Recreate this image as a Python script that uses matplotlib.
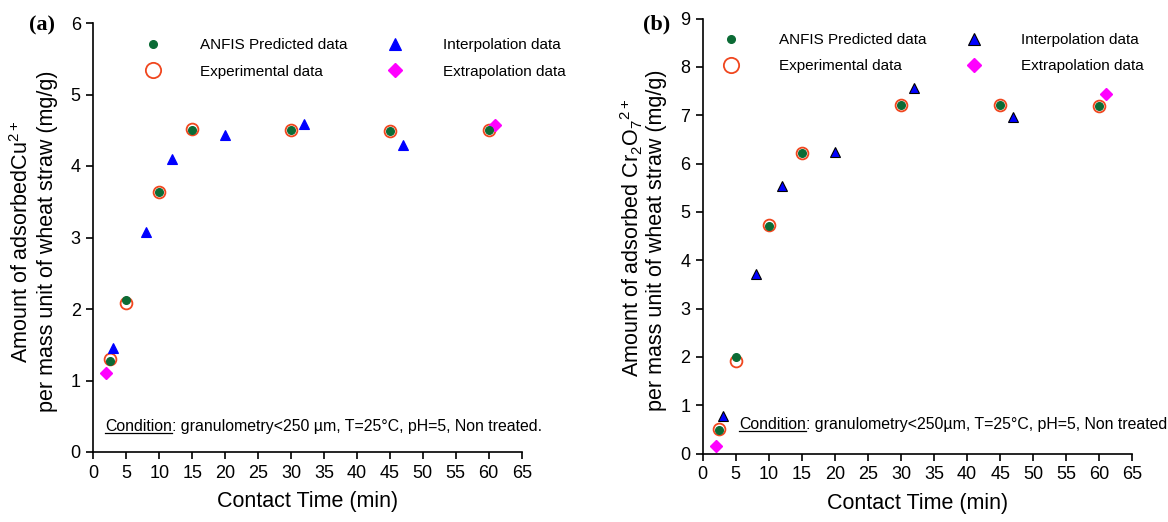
import matplotlib
matplotlib.use("Agg")
import matplotlib.pyplot as plt
from matplotlib.lines import Line2D

plt.rcParams['font.family'] = ['Liberation Sans', 'DejaVu Sans']
plt.rcParams['mathtext.fontset'] = 'custom'
plt.rcParams['mathtext.rm'] = 'Liberation Sans'
plt.rcParams['mathtext.it'] = 'Liberation Sans:italic'

# contact time of the experiments (min)
t_exp = [2.5, 5, 10, 15, 30, 45, 60]
t_interp = [3, 8, 12, 20, 32, 47]
t_extrap = [2, 61]

# (a) Cu2+
cu_exp = [1.30, 2.08, 3.64, 4.52, 4.50, 4.49, 4.50]
cu_anfis = [1.27, 2.12, 3.63, 4.50, 4.50, 4.49, 4.50]
cu_interp = [1.46, 3.08, 4.10, 4.43, 4.59, 4.29]
cu_extrap = [1.11, 4.58]

# (b) Cr2O7 2+
cr_exp = [0.51, 1.91, 4.74, 6.22, 7.22, 7.22, 7.19]
cr_anfis = [0.48, 1.99, 4.71, 6.22, 7.22, 7.21, 7.19]
cr_interp = [0.78, 3.72, 5.53, 6.25, 7.56, 6.97]
cr_extrap = [0.15, 7.44]

GREEN = '#0b6b35'
ORANGE = '#f0461e'
BLUE = '#0000ff'
MAGENTA = '#ff00ff'

W, H = 1168, 522
fig = plt.figure(figsize=(W / 100, H / 100), dpi=100)

def px_axes(x0, x1, y0, y1):
    # axes rectangle from pixel coords (top-left origin)
    return fig.add_axes([x0 / W, 1 - y1 / H, (x1 - x0) / W, (y1 - y0) / H])

ax_a = px_axes(93.3, 521.7, 23, 452)
ax_b = px_axes(702.7, 1132.4, 18.6, 453.6)

def draw_panel(ax, exp, anfis, interp, extrap, ymax, tri_edge):
    ax.plot(t_exp, exp, 'o', ms=8.5, mfc='none', mec=ORANGE, mew=1.3, clip_on=False, zorder=3)
    ax.plot(t_exp, anfis, 'o', ms=5.5, color=GREEN, mec=GREEN, clip_on=False, zorder=4)
    ax.plot(t_interp, interp, '^', ms=7.5, color=BLUE, mec=tri_edge, mew=0.8, clip_on=False, zorder=3)
    ax.plot(t_extrap, extrap, 'D', ms=6, color=MAGENTA, mec=MAGENTA, clip_on=False, zorder=3)
    ax.set_xlim(0, 65)
    ax.set_ylim(0, ymax)
    ax.set_xticks(range(0, 66, 5))
    ax.set_yticks(range(0, ymax + 1))
    for s in ['top', 'right']:
        ax.spines[s].set_visible(False)
    for s in ['left', 'bottom']:
        ax.spines[s].set_linewidth(1.2)
    ax.tick_params(direction='out', length=5, width=1.2, labelsize=13, pad=4)
    ax.set_xlabel('Contact Time (min)', fontsize=15.5, labelpad=7)

    handles = [
        Line2D([], [], ls='none', marker='o', ms=5.5, color=GREEN),
        Line2D([], [], ls='none', marker='o', ms=11, mfc='none', mec=ORANGE, mew=1.3),
        Line2D([], [], ls='none', marker='^', ms=9, color=BLUE, mec=tri_edge, mew=0.8),
        Line2D([], [], ls='none', marker='D', ms=7.5, color=MAGENTA),
    ]
    labels = ['ANFIS Predicted data', 'Experimental data',
              'Interpolation data', 'Extrapolation data']
    return handles, labels

leg_kw = dict(ncol=2, loc='upper left', frameon=False, fontsize=11,
              handlelength=1.2, handletextpad=2.5, columnspacing=2.5,
              labelspacing=0.8, borderaxespad=0, borderpad=0)

h, l = draw_panel(ax_a, cu_exp, cu_anfis, cu_interp, cu_extrap, 6, BLUE)
ax_a.legend(h, l, bbox_to_anchor=(0.118, 0.964), **leg_kw)

h, l = draw_panel(ax_b, cr_exp, cr_anfis, cr_interp, cr_extrap, 9, 'black')
ax_b.legend(h, l, bbox_to_anchor=(0.0456, 0.967), **leg_kw)

# y labels, two lines each
def fig_text(x, y, s, **kw):
    return fig.text(x / W, 1 - y / H, s, **kw)

ylab = dict(rotation=90, ha='center', va='center', fontsize=15.5)
fig_text(21.7, 242, r'Amount of adsorbedCu$^{2+}$', **ylab)
fig_text(48, 241, 'per mass unit of wheat straw (mg/g)', **ylab)
fig_text(631.7, 238, r'Amount of adsorbed Cr$_2$O$_7$$^{2+}$', **ylab)
fig_text(656.7, 240, 'per mass unit of wheat straw (mg/g)', **ylab)

# panel letters
fig_text(42, 25, '(a)', family='Liberation Serif', fontweight='bold', fontsize=16, ha='center', va='center')
fig_text(657, 24, '(b)', family='Liberation Serif', fontweight='bold', fontsize=16, ha='center', va='center')

# condition notes with underlined "Condition"
def condition(x, y, rest):
    t1 = fig_text(x, y, 'Condition', fontsize=11.4, ha='left', va='baseline')
    fig.canvas.draw()
    bb = t1.get_window_extent()
    uy = bb.y0 + 1
    fig.add_artist(Line2D([bb.x0 / W, bb.x1 / W], [uy / H, uy / H], color='black', lw=0.9))
    fig.text(bb.x1 / W, 1 - y / H, rest, fontsize=11.4, ha='left', va='baseline')

condition(104.8, 430.6, ': granulometry<250 \u00b5m, T=25\u00b0C, pH=5, Non treated.')
condition(739, 429, ': granulometry<250\u00b5m, T=25\u00b0C, pH=5, Non treated')

fig.savefig('out.png', dpi=100)
